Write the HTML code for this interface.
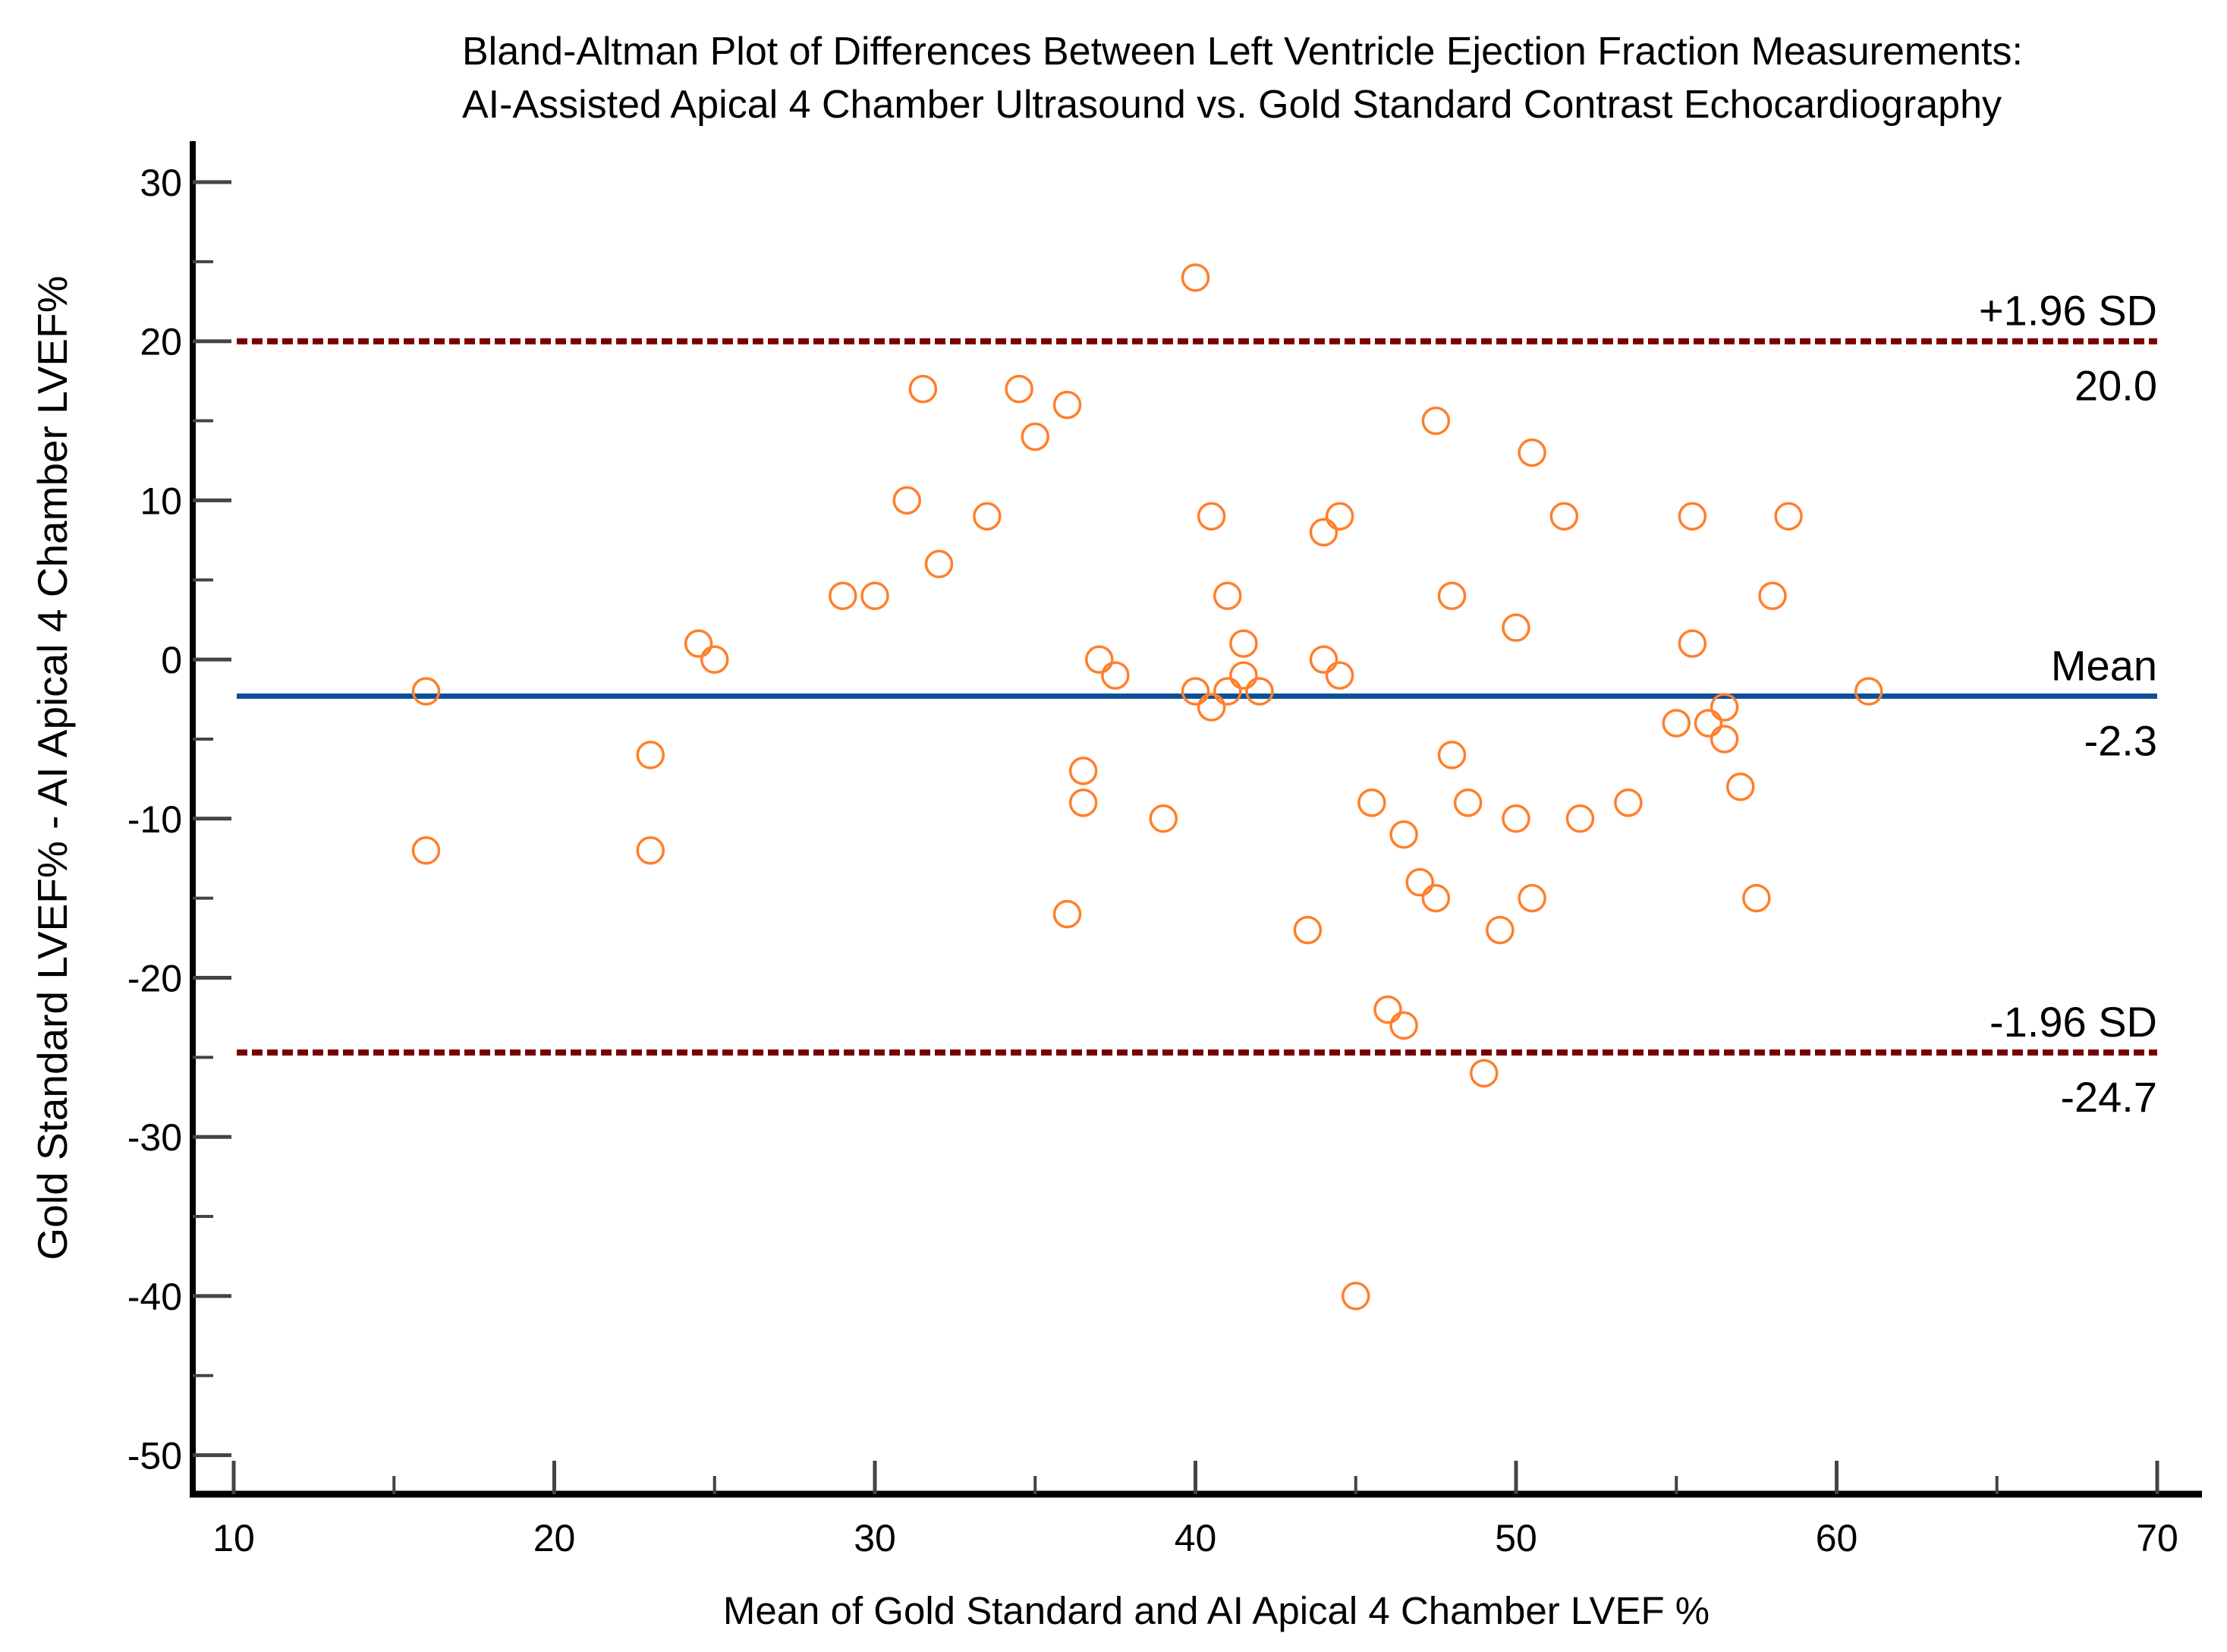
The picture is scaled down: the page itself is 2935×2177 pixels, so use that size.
<!DOCTYPE html>
<html><head><meta charset="utf-8"><style>
html,body{margin:0;padding:0;background:#fff;}
svg{display:block;font-family:"Liberation Sans",Arial,sans-serif;}
</style></head><body>
<svg id="chart" width="2935" height="2177" viewBox="0 0 2935 2177" xmlns="http://www.w3.org/2000/svg">
<rect width="2935" height="2177" fill="#fff"/>
<g font-size="52" fill="#000">
<text x="609" y="85">Bland-Altman Plot of Differences Between Left Ventricle Ejection Fraction Measurements:</text>
<text x="609" y="155">AI-Assisted Apical 4 Chamber Ultrasound vs. Gold Standard Contrast Echocardiography</text>
</g>
<g id="grid"></g>
<g id="marks"></g>
<text x="1603" y="2140" font-size="51" text-anchor="middle">Mean of Gold Standard and AI Apical 4 Chamber LVEF %</text>
<text transform="translate(88,1012) rotate(-90)" font-size="55" text-anchor="middle">Gold Standard LVEF% - AI Apical 4 Chamber LVEF%</text>
</svg>
<script>
const xTicks = [10,20,30,40,50,60,70];
const yTicks = [30,20,10,0,-10,-20,-30,-40,-50];
const xVals = [16,16,23,23,24.5,25,29,30,31,31.5,32,33.5,34.5,35,36,36,36.5,36.5,37,37.5,39,40,40,40.5,40.5,41,41,41.5,41.5,42,43.5,44,44,44.5,44.5,45,45.5,46,46.5,46.5,47,47.5,47.5,48,48,48.5,49,49.5,50,50,50.5,50.5,51.5,52,53.5,55,55.5,55.5,56,56.5,56.5,57,57.5,58,58.5,61];
const yVals = [-2,-12,-6,-12,1,0,4,4,10,17,6,9,17,14,16,-16,-7,-9,0,-1,-10,24,-2,9,-3,4,-2,1,-1,-2,-17,8,0,9,-1,-40,-9,-22,-23,-11,-14,15,-15,4,-6,-9,-26,-17,2,-10,13,-15,9,-10,-9,-4,9,1,-4,-3,-5,-8,-15,4,9,-2];
const meanDiff = -2.3;
const upperLoA = 20.0;
const lowerLoA = -24.7;

const NS='http://www.w3.org/2000/svg';
const X = v => 308 + (v-10)*42.25;
const Y = v => 240 + (30-v)*20.97;
function mk(tag, attrs, parent){const e=document.createElementNS(NS,tag);for(const k in attrs)e.setAttribute(k,attrs[k]);parent.appendChild(e);return e;}
const grid=document.getElementById('grid'), marks=document.getElementById('marks');

let ya=mk('line',{x1:254,y1:186,x2:254,y2:1973,stroke:'#000','stroke-width':8},grid);


let xa=mk('line',{x1:250,y1:1969,x2:2902,y2:1969,stroke:'#000','stroke-width':9},grid);



yTicks.forEach((t,i)=>{
  const y=Y(t);
  let tk=mk('line',{x1:254,y1:y,x2:305,y2:y,stroke:'#444','stroke-width':5},grid);
  
  
  if(i<yTicks.length-1){
    const ym=Y(t-5);
    let mt=mk('line',{x1:254,y1:ym,x2:281,y2:ym,stroke:'#444','stroke-width':4},grid);
    
    
  }
  let lb=mk('text',{x:240,y:y+18,'font-size':50,'text-anchor':'end'},grid);
  lb.textContent=String(t);
  
  
});
xTicks.forEach((t,i)=>{
  const x=X(t);
  let tk=mk('line',{x1:x,y1:1925,x2:x,y2:1969,stroke:'#444','stroke-width':5},grid);
  
  
  if(i<xTicks.length-1){
    const xm=X(t+5);
    let mt=mk('line',{x1:xm,y1:1945,x2:xm,y2:1969,stroke:'#444','stroke-width':4},grid);
    
    
  }
  let lb=mk('text',{x:x,y:2044,'font-size':50,'text-anchor':'middle'},grid);
  lb.textContent=String(t);
  
  
});

const x0=312, x1=X(70);
let up=mk('line',{x1:x0,y1:Y(upperLoA),x2:x1,y2:Y(upperLoA),stroke:'#7a0000','stroke-width':8,'stroke-dasharray':'14 6'},marks);


let lo=mk('line',{x1:x0,y1:Y(lowerLoA),x2:x1,y2:Y(lowerLoA),stroke:'#7a0000','stroke-width':8,'stroke-dasharray':'14 6'},marks);


let mn=mk('line',{x1:x0,y1:Y(meanDiff),x2:x1,y2:Y(meanDiff),stroke:'#0a4f9a','stroke-width':7},marks);



function lab(txt,y,name){let t=mk('text',{x:x1,y:y,'font-size':56,'text-anchor':'end'},marks);t.textContent=txt;}
lab('+1.96 SD',Y(upperLoA)-21,'upper-limit-label');
lab(upperLoA.toFixed(1),Y(upperLoA)+78,'upper-limit-value');
lab('Mean',Y(meanDiff)-21,'mean-label');
lab(meanDiff.toFixed(1),Y(meanDiff)+78,'mean-value');
lab('-1.96 SD',Y(lowerLoA)-21,'lower-limit-label');
lab(lowerLoA.toFixed(1),Y(lowerLoA)+78,'lower-limit-value');

xVals.forEach((v,i)=>{
  let c=mk('circle',{cx:X(v),cy:Y(yVals[i]),r:17,fill:'none',stroke:'#ff7f2a','stroke-width':3.5},marks);
  
  
});
</script>
</body></html>
